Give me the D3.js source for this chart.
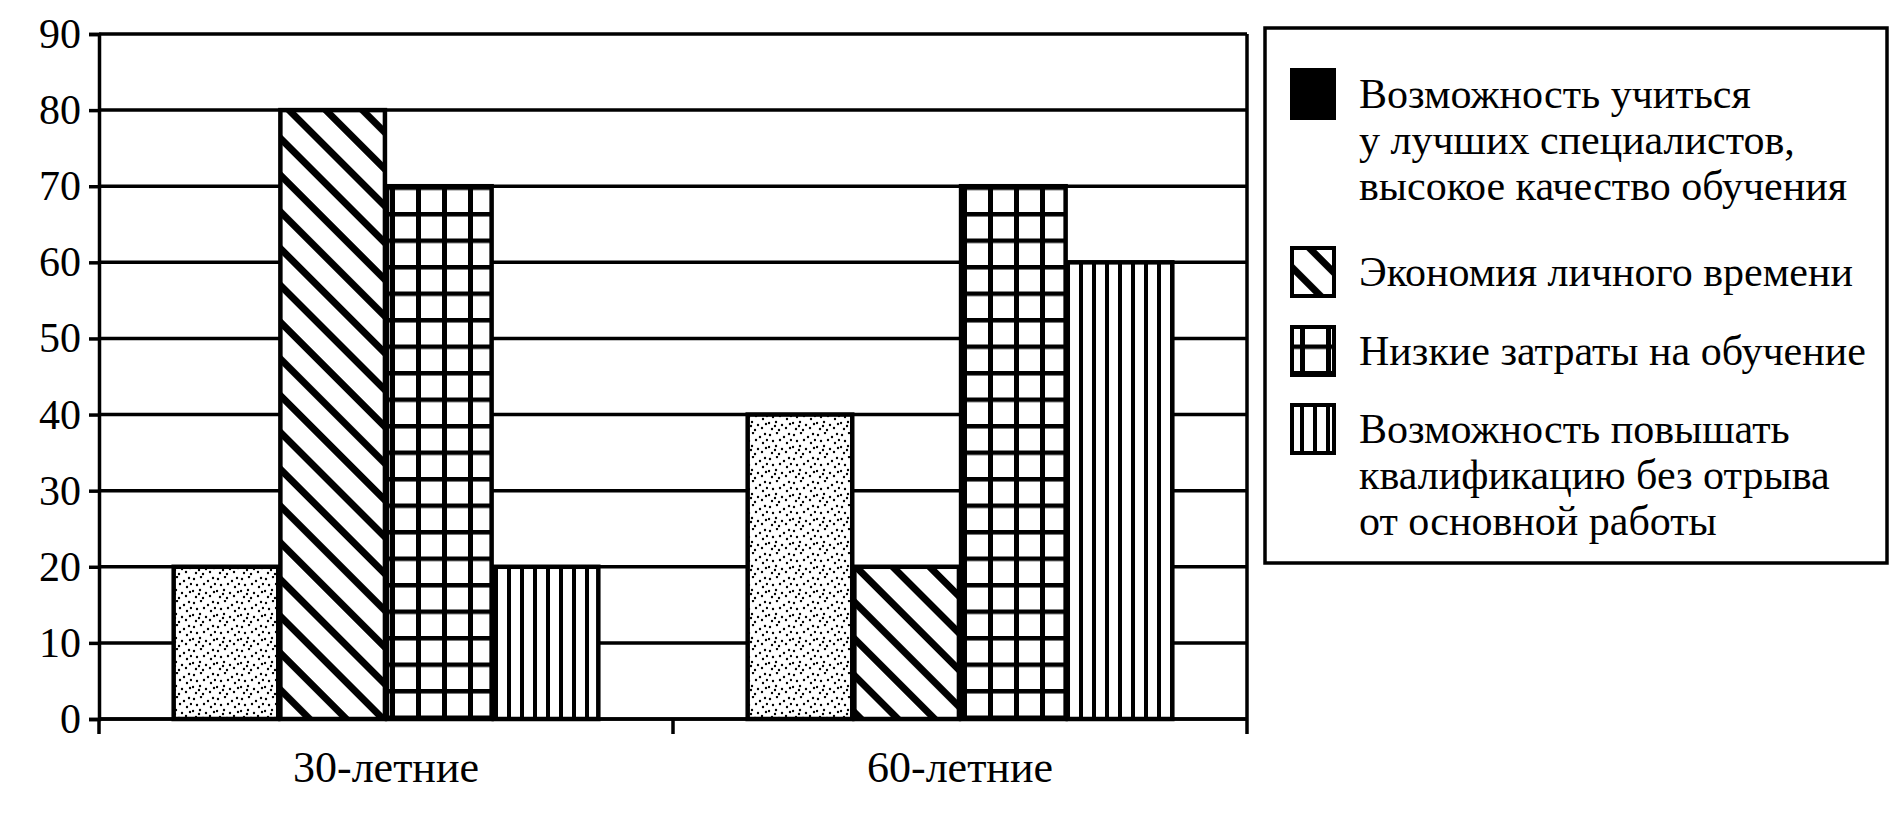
<!DOCTYPE html>
<html><head><meta charset="utf-8">
<script src="https://cdn.jsdelivr.net/npm/d3@7"></script>
<style>body{margin:0;background:#fff}svg{display:block}</style>
</head><body>
<svg id="c" width="1896" height="829"></svg>
<script>
const categories = ["30-летние", "60-летние"];
const seriesNames = [
  ["Возможность учиться", "у лучших специалистов,", "высокое качество обучения"],
  ["Экономия личного времени"],
  ["Низкие затраты на обучение"],
  ["Возможность повышать", "квалификацию без отрыва", "от основной работы"]
];
const seriesValues = [
  [20, 40],
  [80, 20],
  [70, 70],
  [20, 60]
];
const yTicks = [0,10,20,30,40,50,60,70,80,90];

const svg = d3.select("#c");
const font = "'Liberation Serif', 'DejaVu Serif', serif";
const defs = svg.append("defs");
const pd = defs.append("pattern").attr("id","p0").attr("patternUnits","userSpaceOnUse").attr("width",24).attr("height",24);
pd.append("rect").attr("width",24).attr("height",24).attr("fill","#fff");
[[2,3],[9,1],[16,5],[21,2],[5,9],[12,8],[19,11],[1,15],[8,14],[14,17],[22,16],[4,21],[11,22],[18,20],[7,18],[23,8]]
  .forEach(([x,y])=>pd.append("circle").attr("cx",x).attr("cy",y).attr("r",1.2).attr("fill","#000"));
const p1 = defs.append("pattern").attr("id","p1").attr("patternUnits","userSpaceOnUse").attr("width",26).attr("height",26).attr("patternTransform","rotate(45)");
p1.append("rect").attr("width",26).attr("height",26).attr("fill","#fff");
p1.append("rect").attr("x",0).attr("y",0).attr("width",26).attr("height",7).attr("fill","#000");
const p2 = defs.append("pattern").attr("id","p2").attr("patternUnits","userSpaceOnUse").attr("width",26).attr("height",26.5).attr("x",0).attr("y",0);
p2.append("rect").attr("width",26).attr("height",26.5).attr("fill","#fff");
p2.append("rect").attr("x",0).attr("width",5).attr("height",26.5).attr("fill","#000");
p2.append("rect").attr("y",0).attr("width",26).attr("height",4.5).attr("fill","#000");
const p3 = defs.append("pattern").attr("id","p3").attr("patternUnits","userSpaceOnUse").attr("width",13).attr("height",10).attr("x",0);
p3.append("rect").attr("width",13).attr("height",10).attr("fill","#fff");
p3.append("rect").attr("width",4).attr("height",10).attr("fill","#000");
const fills = ["url(#p0)","url(#p1)","url(#p2)","url(#p3)"];
const legFills = ["#000","url(#p1)","url(#p2)","url(#p3)"];

const L=99, R=1247, T=34, B=719;
const y = d3.scaleLinear().domain([0,90]).range([B,T]);
const x0 = d3.scaleBand().domain(categories).range([L,R]);
const x1 = d3.scaleBand().domain(d3.range(4)).range([0,x0.bandwidth()]).paddingOuter(0.7).paddingInner(0.02);

svg.append("g").selectAll("line").data(yTicks).join("line")
  .attr("x1",L).attr("x2",R).attr("y1",d=>y(d)).attr("y2",d=>y(d)).attr("stroke","#000").attr("stroke-width",3.5);
const ya = svg.append("g").attr("transform",`translate(${L},0)`).call(d3.axisLeft(y).tickValues(yTicks).tickSize(10).tickPadding(8));
ya.select(".domain").attr("stroke-width",3.5);
ya.selectAll("line").attr("stroke-width",3.5);
ya.selectAll("text").attr("font-family",font).attr("font-size",42).attr("fill","#000");
svg.append("line").attr("x1",R).attr("x2",R).attr("y1",T).attr("y2",B).attr("stroke","#000").attr("stroke-width",3.5);

categories.forEach((c,ci)=>{
  seriesValues.forEach((vals,si)=>{
    svg.append("rect").attr("x",x0(c)+x1(si)).attr("width",x1.bandwidth())
      .attr("y",y(vals[ci])).attr("height",B-y(vals[ci]))
      .attr("fill",fills[si]).attr("stroke","#000").attr("stroke-width",4.5);
  });
});
const xa = svg.append("g").attr("transform",`translate(0,${B})`).call(d3.axisBottom(x0).tickSize(0).tickPadding(32));
xa.select(".domain").attr("stroke-width",3.5).attr("d",`M${L},0H${R}`);
xa.selectAll("text").attr("font-family",font).attr("font-size",44).attr("fill","#000");
svg.append("g").selectAll("line").data([L,(L+R)/2,R]).join("line")
  .attr("x1",d=>d).attr("x2",d=>d).attr("y1",B).attr("y2",B+15).attr("stroke","#000").attr("stroke-width",3.5);

svg.append("rect").attr("x",1265).attr("y",28).attr("width",622).attr("height",535).attr("fill","#fff").attr("stroke","#000").attr("stroke-width",3.5);
const legY=[70,248,327,405];
seriesNames.forEach((lines,i)=>{
  svg.append("rect").attr("x",1292).attr("y",legY[i]).attr("width",42).attr("height",48)
    .attr("fill",legFills[i]).attr("stroke","#000").attr("stroke-width",4);
  const t = svg.append("text").attr("font-family",font).attr("font-size",42).attr("fill","#000");
  lines.forEach((s,j)=>t.append("tspan").attr("x",1359).attr("y",legY[i]+38+j*46).text(s));
});
</script>
</body></html>
